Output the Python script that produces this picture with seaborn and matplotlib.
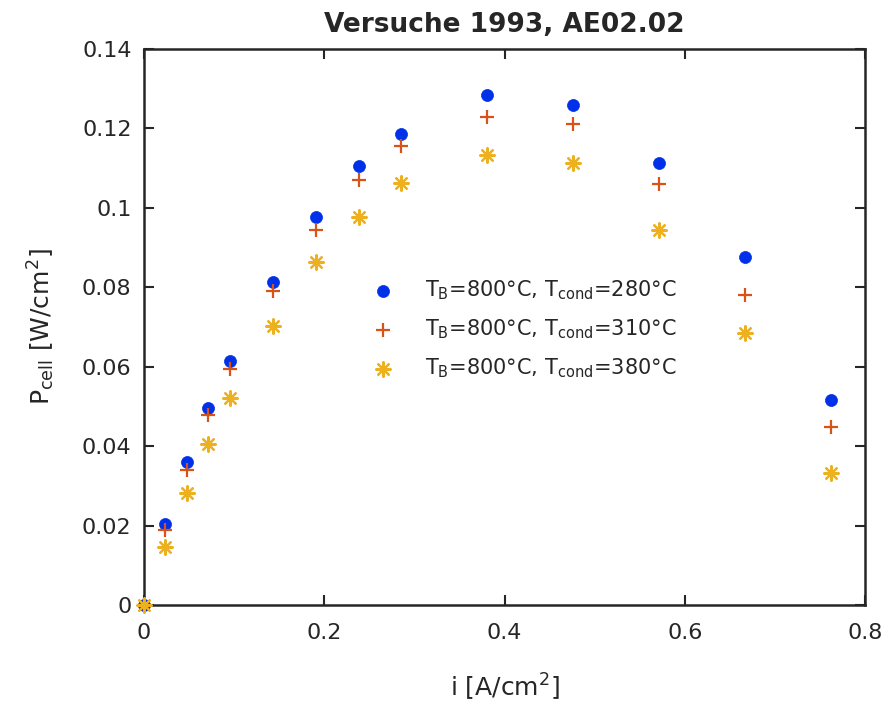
import numpy as np
import pandas as pd
import matplotlib
matplotlib.use("Agg")
import matplotlib.pyplot as plt
import seaborn as sns

# ---- data ----
current = [0.0, 0.0238, 0.0476, 0.0714, 0.0952, 0.1429, 0.1905, 0.2381,
           0.2857, 0.3810, 0.4762, 0.5714, 0.6667, 0.7619]
p_280 = [0.0, 0.0203, 0.0360, 0.0497, 0.0615, 0.0814, 0.0976, 0.1105,
         0.1185, 0.1284, 0.1258, 0.1112, 0.0877, 0.0517]
p_310 = [0.0, 0.0189, 0.0341, 0.0479, 0.0593, 0.0791, 0.0945, 0.1070,
         0.1155, 0.1229, 0.1210, 0.1061, 0.0780, 0.0449]
p_380 = [0.0, 0.0145, 0.0282, 0.0406, 0.0521, 0.0702, 0.0864, 0.0976,
         0.1062, 0.1133, 0.1112, 0.0945, 0.0684, 0.0332]
labels = [r'T$_{B}$=800°C, T$_{cond}$=280°C',
          r'T$_{B}$=800°C, T$_{cond}$=310°C',
          r'T$_{B}$=800°C, T$_{cond}$=380°C']
x_ticks = [0, 0.2, 0.4, 0.6, 0.8]
x_tick_labels = ['0', '0.2', '0.4', '0.6', '0.8']
y_ticks = [0, 0.02, 0.04, 0.06, 0.08, 0.1, 0.12, 0.14]
y_tick_labels = ['0', '0.02', '0.04', '0.06', '0.08', '0.1', '0.12', '0.14']

sns.set_style("white")
plt.rcParams['font.family'] = ['DejaVu Sans']
plt.rcParams['mathtext.default'] = 'regular'

fig = plt.figure(figsize=(8.86, 7.09), dpi=100)
ax = fig.add_axes([144 / 886, 1 - 605 / 709, 721 / 886, 556 / 709])

colors = ['#0030e8', '#D95319', '#EDB120']
markers = ['o', '+', (8, 2, 0)]
sizes = [75, 110, 110]
series = [p_280, p_310, p_380]
for vals, c, m, s, lab in zip(series, colors, markers, sizes, labels):
    df = pd.DataFrame({'i': current, 'P': vals})
    if m == 'o':
        sns.scatterplot(data=df, x='i', y='P', ax=ax, color=c, marker=m,
                        s=s, edgecolor=c, linewidth=0.5, label=lab,
                        zorder=3, clip_on=False)
    else:
        sns.scatterplot(data=df, x='i', y='P', ax=ax, color=c, marker=m,
                        s=s, linewidth=1.6, label=lab, zorder=3,
                        clip_on=False)

ax.set_xlim(0, 0.8)
ax.set_ylim(0, 0.14)
ax.set_xticks(x_ticks)
ax.set_xticklabels(x_tick_labels)
ax.set_yticks(y_ticks)
ax.set_yticklabels(y_tick_labels)
ax.tick_params(direction='in', length=7, width=1.5, labelsize=16,
               top=True, right=True, bottom=True, left=True, colors='#262626',
               labelcolor='#262626')
ax.tick_params(axis='x', pad=13)
ax.tick_params(axis='y', pad=9)
for sp in ax.spines.values():
    sp.set_visible(True)
    sp.set_linewidth(1.8)
    sp.set_color('#262626')

ax.set_xlabel(r'i [A/cm$^{2}$]', fontsize=18, color='#262626', labelpad=21)
ax.set_ylabel(r'P$_{cell}$ [W/cm$^{2}$]', fontsize=18, color='#262626', labelpad=18)
ax.set_title('Versuche 1993, AE02.02', fontsize=19, fontweight='bold', pad=12)

leg = ax.legend(frameon=False, loc='upper left', bbox_to_anchor=(0.303, 0.603),
                fontsize=15, handletextpad=1.4, labelspacing=0.75,
                handlelength=1.2, borderaxespad=0)

fig.savefig('out.png', dpi=100)
